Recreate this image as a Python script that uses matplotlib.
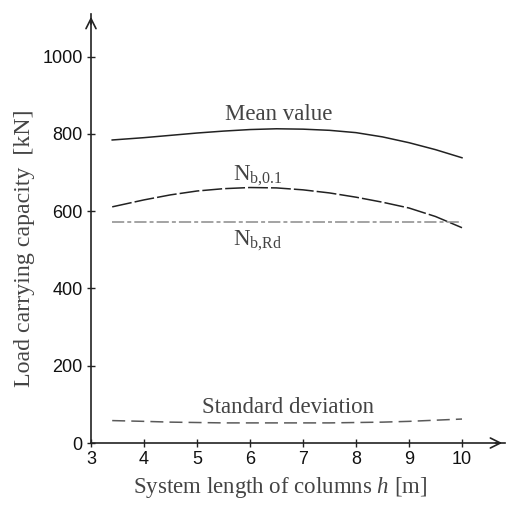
import matplotlib
matplotlib.use("Agg")
import matplotlib.pyplot as plt

plt.rcParams["mathtext.fontset"] = "custom"
plt.rcParams["mathtext.rm"] = "Liberation Serif"
plt.rcParams["mathtext.it"] = "Liberation Serif:italic"

# System length of columns [m]
h = [3.4, 4.0, 4.5, 5.0, 5.5, 6.0, 6.5, 7.0, 7.5, 8.0, 8.5, 9.0, 9.5, 10.0]
mean_value = [784, 790, 796, 802, 807, 811, 813, 812, 809, 803, 792, 777, 759, 738]
n_b01 = [611, 629, 642, 652, 658, 661, 660, 655, 647, 636, 623, 608, 586, 557]
n_brd = [572] * len(h)
std_dev = [58, 56, 54, 53, 52, 52, 52, 52, 52, 53, 54, 56, 59, 62]

x_ticks = [3, 4, 5, 6, 7, 8, 9, 10]
y_ticks = [0, 200, 400, 600, 800, 1000]

serif = ["Liberation Serif", "DejaVu Serif"]
sans = ["Liberation Sans", "DejaVu Sans"]

fig = plt.figure(figsize=(5.11, 5.07), dpi=100)
W, H = 511, 507
x0, y0 = 91, 443
x1, y1 = 505, 14
ax = fig.add_axes([x0 / W, 1 - y0 / H, (x1 - x0) / W, (y0 - y1) / H])

xmax = 3 + (x1 - x0) / 53.0
ymax = (y0 - y1) / 0.3865
ax.set_xlim(3, xmax)
ax.set_ylim(0, ymax)

lw = 1.1
ax.plot(h, mean_value, color="#222222", lw=lw, ls="-")
ax.plot(h, n_b01, color="#222222", lw=lw, ls=(0, (13, 2)))
ax.plot(h, n_brd, color="#8a8a8a", lw=lw, ls=(0, (8, 2, 2.6, 2)))
ax.plot(h, std_dev, color="#5a5a5a", lw=lw, ls=(0, (8.5, 4)))

txt = "#444444"
fs = 16.5
ax.text(6.55, 836, "Mean value", family=serif, fontsize=fs, color=txt, ha="center", va="baseline")
ax.text(5.68, 680, r"N$_{\mathrm{b{,}0.1}}$", family=serif, fontsize=fs, color=txt, ha="left", va="baseline")
ax.text(5.68, 512, r"N$_{\mathrm{b{,}Rd}}$", family=serif, fontsize=fs, color=txt, ha="left", va="baseline")
ax.text(6.71, 78, "Standard deviation", family=serif, fontsize=fs, color=txt, ha="center", va="baseline")

for s in ["top", "right"]:
    ax.spines[s].set_visible(False)
for s in ["left", "bottom"]:
    ax.spines[s].set_color("#222222")
    ax.spines[s].set_linewidth(1.2)

# arrow heads at the end of both axes
ax.annotate("", xy=(1.0, 0), xytext=(0.97, 0), xycoords="axes fraction",
            arrowprops=dict(arrowstyle="->", color="#222222", lw=1.2, mutation_scale=18))
ax.annotate("", xy=(0, 1.0), xytext=(0, 0.97), xycoords="axes fraction",
            arrowprops=dict(arrowstyle="->", color="#222222", lw=1.2, mutation_scale=18))

ax.set_xticks(x_ticks)
ax.set_yticks(y_ticks)
ax.tick_params(direction="inout", length=6, width=1, color="#222222", labelsize=13, pad=3)
for lab in ax.get_xticklabels() + ax.get_yticklabels():
    lab.set_family(sans)
    lab.set_color("#111111")

ax.set_xlabel(r"System length of columns $h$ [m]", family=serif, fontsize=16.5, color=txt,
              labelpad=5, x=0.458)
ax.set_ylabel("Load carrying capacity  [kN]", family=serif, fontsize=17.2, color=txt,
              labelpad=5, y=0.453)

fig.savefig("out.png", dpi=100)
